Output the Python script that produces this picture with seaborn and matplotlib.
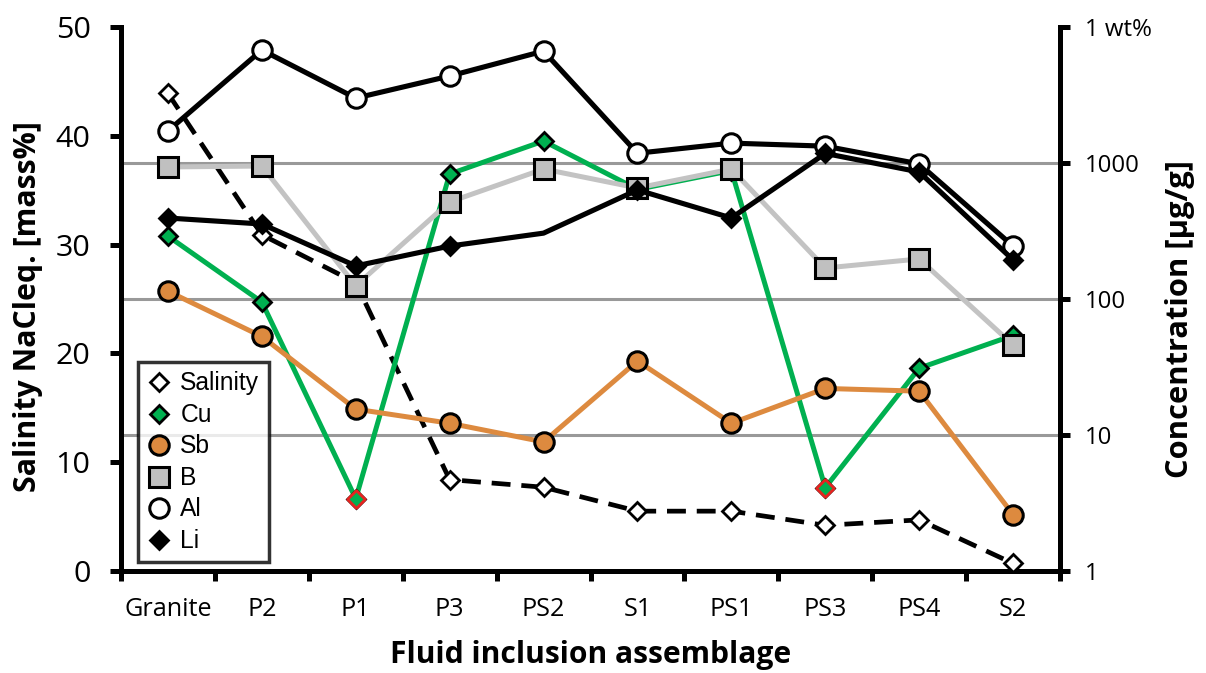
import numpy as np
import pandas as pd
import matplotlib
matplotlib.use("Agg")
import matplotlib.pyplot as plt
from matplotlib.lines import Line2D
import seaborn as sns

# Fluid inclusion assemblages along the profile
categories = ["Granite", "P2", "P1", "P3", "PS2", "S1", "PS1", "PS3", "PS4", "S2"]

# Salinity in mass% NaCl equivalent (left axis)
salinity = [43.9, 30.9, 26.5, 8.4, 7.7, 5.5, 5.5, 4.2, 4.7, 0.7]

# Element concentrations in µg/g (right, logarithmic axis)
cu = [290, 95, 3.4, 830, 1450, 640, 880, 4.1, 31, 54]
sb = [114, 53, 15.5, 12.2, 8.9, 35, 12.2, 22, 21, 2.6]
b = [935, 950, 125, 517, 903, 655, 903, 169, 197, 46]
al = [1720, 6770, 3000, 4360, 6650, 1180, 1400, 1330, 985, 245]
li = [394, 356, 175, 245, 305, 634, 394, 1176, 859, 194]

# Cu analyses below detection (drawn with red outline)
cu_lod = ["P1", "PS3"]
# Li value at PS2 only interpolated (line passes without a marker)
li_no_marker = ["PS2"]

left_ticks = [0, 10, 20, 30, 40, 50]
right_ticks = [1, 10, 100, 1000, 10000]
right_labels = ["1", "10", "100", "1000", "1 wt%"]

df = pd.DataFrame({"pos": np.arange(len(categories)), "cat": categories,
                   "Salinity": salinity, "Cu": cu, "Sb": sb, "B": b,
                   "Al": al, "Li": li})

sns.set_theme(style="white")
plt.rcParams["font.family"] = ["Open Sans", "DejaVu Sans"]
plt.rcParams.update({"text.color": "black", "xtick.color": "black",
                     "ytick.color": "black", "axes.labelcolor": "black"})

W, H = 1206, 673
fig = plt.figure(figsize=(W / 100, H / 100), dpi=100)
ax = fig.add_axes([121 / W, 1 - 571 / H, (1060 - 121) / W, (571 - 27) / H])
ax2 = ax.twinx()

GREEN = "#00b050"
ORANGE = "#dd8a3f"
GREYFILL = "#c0c0c0"
GREYLINE = "#c3c3c3"
GRID = "#999999"

# grid lines shared by both scales (12.5 mass% steps = decades)
ax.set_yticks([12.5, 25, 37.5, 50], minor=True)
ax.grid(which="minor", axis="y", color=GRID, lw=2.2)
ax.grid(which="major", visible=False)
ax.set_axisbelow(True)

# salinity on the linear axis
sns.lineplot(data=df, x="pos", y="Salinity", ax=ax, color="black", lw=3.4,
             dashes=False, linestyle=(0, (4.0, 2.3)), marker="D", markersize=9,
             markerfacecolor="white", markeredgecolor="black",
             markeredgewidth=2.0, sort=False, zorder=3)

# concentrations on the log axis
sns.lineplot(data=df, x="pos", y="Cu", ax=ax2, color=GREEN, lw=3.6,
             marker="D", markersize=9, markerfacecolor=GREEN,
             markeredgecolor="black", markeredgewidth=2.0, sort=False, zorder=3)
lod = df[df["cat"].isin(cu_lod)]
sns.scatterplot(data=lod, x="pos", y="Cu", ax=ax2, marker="D", s=9 ** 2,
                color=GREEN, edgecolor="#e52420", linewidth=2.0, zorder=4)
sns.lineplot(data=df, x="pos", y="Sb", ax=ax2, color=ORANGE, lw=3.6,
             marker="o", markersize=14, markerfacecolor=ORANGE,
             markeredgecolor="black", markeredgewidth=2.2, sort=False, zorder=5)
sns.lineplot(data=df, x="pos", y="B", ax=ax2, color=GREYLINE, lw=3.6,
             marker="s", markersize=14, markerfacecolor=GREYFILL,
             markeredgecolor="black", markeredgewidth=2.2, sort=False, zorder=6)
sns.lineplot(data=df, x="pos", y="Al", ax=ax2, color="black", lw=3.7,
             marker="o", markersize=14, markerfacecolor="white",
             markeredgecolor="black", markeredgewidth=2.2, sort=False, zorder=7)
li_marks = [i for i, c in enumerate(categories) if c not in li_no_marker]
sns.lineplot(data=df, x="pos", y="Li", ax=ax2, color="black", lw=3.7,
             marker="D", markersize=9, markerfacecolor="black",
             markeredgecolor="black", markeredgewidth=2.0, markevery=li_marks,
             sort=False, zorder=8)

# scales
n = len(categories)
ax.set_xlim(-0.5, n - 0.5)
ax.set_ylim(0, 50)
ax2.set_yscale("log")
ax2.set_ylim(1, 10000)

ax.set_yticks(left_ticks)
ax.set_yticklabels([str(v) for v in left_ticks], fontsize=21)
ax2.set_yticks(right_ticks)
ax2.set_yticklabels(right_labels, fontsize=17)
ax2.yaxis.set_minor_locator(matplotlib.ticker.NullLocator())

ax.set_xticks(np.arange(n + 1) - 0.5)
ax.set_xticklabels([])
ax.set_xticks(np.arange(n), minor=True)
ax.set_xticklabels(categories, minor=True, fontsize=17)

ax.tick_params(axis="y", which="major", direction="out", length=8, width=3.6,
               color="black", pad=14, left=True)
ax.tick_params(axis="y", which="minor", length=0, left=False)
ax.tick_params(axis="x", which="major", direction="out", length=7, width=3.6,
               color="black", bottom=True)
ax.tick_params(axis="x", which="minor", length=0, pad=19)
ax2.tick_params(axis="y", which="major", direction="out", length=7, width=3.6,
                color="black", pad=11, right=True)

for a in (ax, ax2):
    a.spines["top"].set_visible(False)
    for s in ("left", "right", "bottom"):
        a.spines[s].set_linewidth(3.6)
        a.spines[s].set_color("black")
ax.spines["right"].set_visible(False)
ax2.spines["left"].set_visible(False)
ax2.spines["bottom"].set_visible(False)
ax.set_xlabel("")
ax.set_ylabel("")
ax2.set_ylabel("")

# axis titles
xlab = fig.text(591 / W, 1 - 663 / H, "Fluid inclusion assemblage",
                ha="center", va="baseline", fontsize=18, fontweight="bold")
ylab = fig.text(28 / W, 1 - 307 / H, "Salinity NaCleq. [mass%]", rotation=90,
                ha="center", va="center", fontsize=17, fontweight="bold")
y2lab = fig.text(1180 / W, 1 - 319 / H, "Concentration [µg/g]", rotation=90,
                 ha="center", va="center", fontsize=17, fontweight="bold")

# legend with marker-only entries
handles = [
    Line2D([], [], ls="none", marker="D", ms=9, mfc="white", mec="black", mew=2.0),
    Line2D([], [], ls="none", marker="D", ms=9, mfc=GREEN, mec="black", mew=2.0),
    Line2D([], [], ls="none", marker="o", ms=14, mfc=ORANGE, mec="black", mew=2.2),
    Line2D([], [], ls="none", marker="s", ms=14, mfc=GREYFILL, mec="black", mew=2.2),
    Line2D([], [], ls="none", marker="o", ms=14, mfc="white", mec="black", mew=2.2),
    Line2D([], [], ls="none", marker="D", ms=9, mfc="black", mec="black", mew=2.0),
]
labels = ["Salinity", "Cu", "Sb", "B", "Al", "Li"]
leg = ax2.legend(handles, labels, loc="lower left",
                 bbox_to_anchor=((138 - 121) / 939, (571 - 562) / 544),
                 borderaxespad=0, frameon=True, fancybox=False,
                 prop={"family": ["Liberation Sans"], "size": 16.5},
                 handlelength=1.0, handletextpad=0.45, labelspacing=0.33,
                 borderpad=0.4)
leg.get_frame().set_edgecolor("black")
leg.get_frame().set_linewidth(2.5)
leg.set_zorder(20)


# scale text sizes to the intended pixel extents
def _extent(t, dim):
    fig.canvas.draw()
    bb = t.get_window_extent(fig.canvas.get_renderer())
    return bb.width if dim == "w" else bb.height


def fit(t, target, dim="w"):
    t.set_fontsize(t.get_fontsize() * target / _extent(t, dim))


fit(xlab, 402, "w")
fit(ylab, 371, "h")
fit(y2lab, 318, "h")

fig.canvas.draw()
lt = [t for t in ax.get_yticklabels() if t.get_text() == "50"][0]
ax.tick_params(axis="y", which="major",
               labelsize=lt.get_fontsize() * 35 / _extent(lt, "w"))
rt = [t for t in ax2.get_yticklabels() if t.get_text() == "1000"][0]
ax2.tick_params(axis="y", which="major",
                labelsize=rt.get_fontsize() * 55 / _extent(rt, "w"))
ct = [t for t in ax.get_xticklabels(minor=True) if t.get_text() == "Granite"][0]
ax.tick_params(axis="x", which="minor",
               labelsize=ct.get_fontsize() * 88 / _extent(ct, "w"))
st = [t for t in leg.get_texts() if t.get_text() == "Salinity"][0]
sz = st.get_fontsize() * 79 / _extent(st, "w")
for t in leg.get_texts():
    t.set_fontsize(sz)

fig.savefig("out.png", dpi=100)
